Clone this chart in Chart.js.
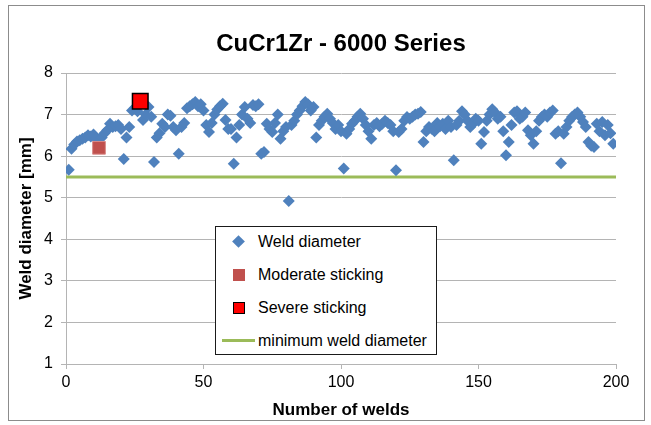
<!DOCTYPE html>
<html>
<head>
<meta charset="utf-8">
<script src="https://cdn.jsdelivr.net/npm/chart.js@4.4.1/dist/chart.umd.min.js"></script>
<style>
  html, body { margin: 0; padding: 0; background: #fff; }
  #wrap { position: relative; width: 651px; height: 425px; }
  #frame { position: absolute; left: 8px; top: 5px; width: 635px; height: 414px; border: 1px solid #8c8c8c; pointer-events: none; }
  #legend { position: absolute; left: 215px; top: 226px; width: 220px; height: 127px; border: 1px solid #1a1a1a; background: #fff;
            font-family: "Liberation Sans", Arial, sans-serif; font-size: 16px; color: #000; }
  .item { position: absolute; left: 0; height: 20px; line-height: 20px; white-space: nowrap; }
  .item span.t { position: absolute; left: 42px; top: 0; }
  .mk { position: absolute; }
</style>
</head>
<body>
<div id="wrap">
  <canvas id="c" width="651" height="425"></canvas>
  <div id="frame"></div>
  <div id="legend">
    <div class="item" style="top:5px"><div class="mk" style="left:18px;top:5px;width:9px;height:9px;background:#4F81BD;transform:rotate(45deg)"></div><span class="t">Weld diameter</span></div>
    <div class="item" style="top:38px"><div class="mk" style="left:17px;top:4px;width:12px;height:12px;background:#C0504D"></div><span class="t">Moderate sticking</span></div>
    <div class="item" style="top:71px"><div class="mk" style="left:17px;top:4px;width:10px;height:10px;background:#FF0000;border:1px solid #000"></div><span class="t">Severe sticking</span></div>
    <div class="item" style="top:104px"><div class="mk" style="left:6px;top:8px;width:33px;height:3px;background:#9BBB59"></div><span class="t">minimum weld diameter</span></div>
  </div>
</div>
<script>
// Weld diameter [mm] for welds 1..199 (null where the weld is shown as a sticking marker)
const diameters = [
  5.67, 6.18, 6.28, 6.35, 6.38, 6.42, 6.45, 6.50, 6.47, 6.52,
  6.42, null, 6.45, 6.55, 6.62, 6.78, 6.70, 6.72, 6.75, 6.65,
  5.93, 6.45, 6.70, 7.10, 7.15, 7.08, null, 6.87, 7.00, 7.18,
  6.95, 5.86, 6.45, 6.55, 6.78, 6.70, 7.00, 6.97, 6.70, 6.62,
  6.06, 6.70, 6.80, 7.15, 7.20, 7.25, 7.30, 7.20, 7.25, 7.10,
  6.75, 6.58, 6.80, 7.00, 7.12, 7.20, 7.26, 6.87, 6.65, 6.65,
  5.82, 6.45, 6.75, 7.00, 7.18, 6.90, 6.80, 7.23, 7.20, 7.25,
  6.06, 6.10, 6.78, 6.65, 6.58, 6.80, 7.00, 6.42, 6.60, 6.70,
  4.92, 6.75, 6.85, 7.00, 7.10, 7.20, 7.30, 7.25, 7.10, 7.18,
  6.45, 6.75, 6.85, 6.95, 7.02, 6.90, 6.80, 6.65, 6.75, 6.60,
  5.70, 6.54, 6.65, 6.78, 6.85, 6.95, 7.02, 6.90, 6.75, 6.60,
  6.42, 6.75, 6.80, 6.72, 6.78, 6.85, 6.80, 6.75, 6.60, 5.66,
  6.58, 6.65, 6.85, 6.94, 6.90, 6.95, 7.00, 7.02, 7.06, 6.34,
  6.60, 6.70, 6.66, 6.60, 6.80, 6.72, 6.78, 6.65, 6.85, 6.70,
  5.90, 6.75, 6.85, 7.08, 7.00, 6.85, 6.70, 6.78, 6.90, 6.85,
  6.30, 6.58, 6.85, 7.00, 7.13, 7.05, 6.90, 6.95, 6.60, 6.02,
  6.34, 6.75, 7.05, 7.08, 6.90, 6.95, 7.05, 6.62, 6.50, 6.30,
  6.60, 6.85, 6.94, 7.00, 6.95, 7.05, 7.10, 6.54, 6.60, 5.83,
  6.54, 6.70, 6.85, 6.94, 7.00, 7.05, 6.95, 6.82, 6.70, 6.34,
  6.25, 6.22, 6.78, 6.60, 6.82, 6.50, 6.75, 6.55, 6.30
];
const moderateWeld = [12];
const moderateDiam = [6.2];
const severeWeld = [27];
const severeDiam = [7.32];
const minDiameterX = [0, 200];
const minDiameterY = [5.5, 5.5];
const xTicks = [0, 50, 100, 150, 200];
const yTicks = [1, 2, 3, 4, 5, 6, 7, 8];

const weldPts = diameters.map((d, i) => d === null ? null : { x: i + 1, y: d }).filter(p => p);
const modPts = moderateWeld.map((w, i) => ({ x: w, y: moderateDiam[i] }));
const sevPts = severeWeld.map((w, i) => ({ x: w, y: severeDiam[i] }));
const minPts = minDiameterX.map((x, i) => ({ x: x, y: minDiameterY[i] }));

const FONT = '"Liberation Sans", Arial, sans-serif';
const gridGray = '#b4b4b4';

const titlePlugin = {
  id: 'customTitle',
  afterDraw(chart) {
    const ctx = chart.ctx;
    ctx.save();
    ctx.font = 'bold 24px ' + FONT;
    ctx.fillStyle = '#000';
    ctx.textAlign = 'center';
    ctx.textBaseline = 'middle';
    ctx.fillText('CuCr1Zr - 6000 Series', 341, 44);
    ctx.restore();
  }
};

new Chart(document.getElementById('c'), {
  type: 'scatter',
  data: {
    datasets: [
      { label: 'Weld diameter', data: weldPts, pointStyle: 'rectRot', pointRadius: 6, pointHoverRadius: 6,
        backgroundColor: '#4F81BD', borderColor: '#4F81BD', borderWidth: 0, order: 3 },
      { label: 'Moderate sticking', data: modPts, pointStyle: 'rect', pointRadius: 9, pointHoverRadius: 9,
        backgroundColor: '#C0504D', borderColor: '#D98A88', borderWidth: 1, order: 2 },
      { label: 'Severe sticking', data: sevPts, pointStyle: 'rect', pointRadius: 11, pointHoverRadius: 11,
        backgroundColor: '#FF0000', borderColor: '#000000', borderWidth: 1.5, order: 1 },
      { type: 'line', label: 'minimum weld diameter', data: minPts, borderColor: '#9BBB59', borderWidth: 3,
        pointRadius: 0, fill: false, order: 10 }
    ]
  },
  options: {
    responsive: false,
    animation: false,
    events: [],
    layout: { padding: { left: 8, right: 35, top: 73, bottom: 0 } },
    plugins: { legend: { display: false }, tooltip: { enabled: false }, title: { display: false } },
    scales: {
      x: {
        type: 'linear', min: 0, max: 200,
        afterFit(s) { s.height = 61; },
        afterBuildTicks(s) { s.ticks = xTicks.map(v => ({ value: v })); },
        ticks: { font: { family: FONT, size: 16 }, color: '#000', padding: 4, maxRotation: 0 },
        grid: { drawOnChartArea: false, drawTicks: true, tickLength: 5, color: gridGray },
        border: { color: gridGray, width: 1 },
        title: { display: true, text: 'Number of welds', color: '#000', font: { family: FONT, size: 17, weight: 'bold' },
                 padding: { top: 0, bottom: 4 } }
      },
      y: {
        type: 'linear', min: 1, max: 8,
        afterFit(s) { s.width = 58; },
        afterBuildTicks(s) { s.ticks = yTicks.map(v => ({ value: v })); },
        ticks: { font: { family: FONT, size: 16 }, color: '#000', padding: 8 },
        grid: { color: gridGray, drawTicks: true, tickLength: 5 },
        border: { color: gridGray, width: 1 },
        title: { display: true, text: 'Weld diameter [mm]', color: '#000', font: { family: FONT, size: 17, weight: 'bold' },
                 padding: { top: 8, bottom: 0 } }
      }
    }
  },
  plugins: [titlePlugin]
});
</script>
</body>
</html>
